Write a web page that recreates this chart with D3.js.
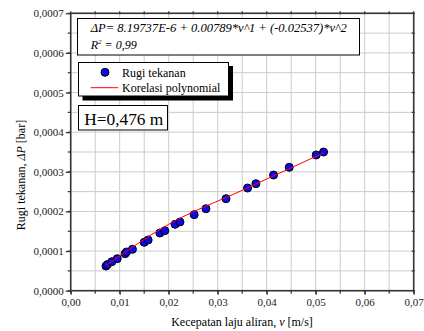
<!DOCTYPE html>
<html>
<head>
<meta charset="utf-8">
<script src="https://cdn.jsdelivr.net/npm/d3@7"></script>
<style>
  body { margin: 0; background: #fff; }
  svg { display: block; font-family: "Liberation Serif", "Times New Roman", serif; }
</style>
</head>
<body>
<svg id="chart" width="424" height="331"></svg>
<script>
// measured data: flow velocity v [m/s] vs pressure loss dP [bar]
const velocity = [0.0072, 0.0075, 0.0084, 0.0095, 0.0111, 0.0114, 0.0126, 0.0150, 0.0158,
  0.0182, 0.0192, 0.0213, 0.0223, 0.0252, 0.0276, 0.0317, 0.0361, 0.0378, 0.0414, 0.0446,
  0.0501, 0.0516];
const pressureLoss = [0.0000623, 0.0000660, 0.0000732, 0.0000808, 0.0000934, 0.0000977,
  0.0001045, 0.0001221, 0.0001279, 0.0001456, 0.0001514, 0.0001675, 0.0001734, 0.0001918,
  0.0002069, 0.0002321, 0.0002591, 0.0002700, 0.0002919, 0.0003114, 0.0003424, 0.0003500];

// polynomial fit line
const fitV = [0.0072, 0.0200, 0.0350, 0.0516];
const fitDP = [0.0000636, 0.0001675, 0.0002533, 0.0003477];

const xTicks = [0, 0.01, 0.02, 0.03, 0.04, 0.05, 0.06, 0.07];
const yTicks = [0, 0.0001, 0.0002, 0.0003, 0.0004, 0.0005, 0.0006, 0.0007];

const fmtX = d => d3.format(".2f")(d).replace(".", ",");
const fmtY = d => d3.format(".4f")(d).replace(".", ",");

const svg = d3.select("#chart");

const x = d3.scaleLinear().domain([0, 0.07]).range([70.7, 413.7]);
const y = d3.scaleLinear().domain([0, 0.0007]).range([290.7, 13.3]);

const xMinor = d3.range(0, 0.0701, 0.005);
const yMinor = d3.range(0, 0.00070001, 0.00005);

// grid
const grid = svg.append("g");
grid.selectAll(".gx").data(xMinor).enter().append("line")
  .attr("x1", d => x(d)).attr("x2", d => x(d))
  .attr("y1", y(0)).attr("y2", y(0.0007))
  .style("stroke", "#cbcbcb").style("stroke-width", 1);
grid.selectAll(".gy").data(yMinor).enter().append("line")
  .attr("x1", x(0)).attr("x2", x(0.07))
  .attr("y1", d => y(d)).attr("y2", d => y(d))
  .style("stroke", "#cbcbcb").style("stroke-width", 1);

// frame
svg.append("rect")
  .attr("x", x(0)).attr("y", y(0.0007))
  .attr("width", x(0.07) - x(0)).attr("height", y(0) - y(0.0007))
  .style("fill", "none").style("stroke", "#333").style("stroke-width", 1.6);

// axes
const bottomAxis = d3.axisBottom(x).tickValues(xTicks).tickFormat(fmtX).tickSize(4).tickPadding(4);
const leftAxis = d3.axisLeft(y).tickValues(yTicks).tickFormat(fmtY).tickSize(5).tickPadding(2);

const gx = svg.append("g").attr("transform", `translate(0,${y(0)})`).call(bottomAxis);
const gy = svg.append("g").attr("transform", `translate(${x(0)},0)`).call(leftAxis);
[gx, gy].forEach(g => {
  g.attr("font-family", null).attr("font-size", null);
  g.select(".domain").remove();
  g.selectAll(".tick line").style("stroke", "#333").style("stroke-width", 1.2);
  g.selectAll(".tick text").style("font-size", "11px").style("fill", "#222");
});

// minor ticks
svg.append("g").selectAll("line").data(xMinor).enter().append("line")
  .attr("x1", d => x(d)).attr("x2", d => x(d))
  .attr("y1", y(0)).attr("y2", y(0) + 3)
  .style("stroke", "#333").style("stroke-width", 1.2);
svg.append("g").selectAll("line").data(yMinor).enter().append("line")
  .attr("x1", x(0) - 3).attr("x2", x(0))
  .attr("y1", d => y(d)).attr("y2", d => y(d))
  .style("stroke", "#333").style("stroke-width", 1.2);
// top and right ticks
svg.append("g").selectAll("line").data(xMinor).enter().append("line")
  .attr("x1", d => x(d)).attr("x2", d => x(d))
  .attr("y1", y(0.0007) - 2).attr("y2", y(0.0007) + 1)
  .style("stroke", "#333").style("stroke-width", 1.2);
svg.append("g").selectAll("line").data(yMinor).enter().append("line")
  .attr("x1", x(0.07) - 2).attr("x2", x(0.07) + 1)
  .attr("y1", d => y(d)).attr("y2", d => y(d))
  .style("stroke", "#333").style("stroke-width", 1.2);

const line = d3.line().x(d => x(d[0])).y(d => y(d[1])).curve(d3.curveMonotoneX);

// points
svg.append("g").selectAll("circle")
  .data(velocity.map((v, i) => [v, pressureLoss[i]]))
  .enter().append("circle")
  .attr("cx", d => x(d[0])).attr("cy", d => y(d[1])).attr("r", 4)
  .style("fill", "#0a0aee").style("stroke", "#000").style("stroke-width", 1);
// fit line drawn over the points
svg.append("path")
  .datum(fitV.map((v, i) => [v, fitDP[i]]))
  .attr("d", line)
  .style("fill", "none").style("stroke", "#ff0000").style("stroke-width", 1);

// equation box
svg.append("rect").attr("x", 77.5).attr("y", 18.5).attr("width", 282).attr("height", 36.5)
  .style("fill", "#fff").style("stroke", "#000").style("stroke-width", 1);
const eq = svg.append("text").attr("x", 90.7).attr("y", 32)
  .style("font-size", "12px").style("font-style", "italic").attr("textLength", 256)
  .attr("lengthAdjust", "spacingAndGlyphs");
eq.append("tspan").text("ΔP");
eq.append("tspan").text("= 8.19737E-6 + 0.00789*v^1 + (-0.02537)*v^2");
const r2 = svg.append("text").attr("x", 90.7).attr("y", 48.5)
  .style("font-size", "12px").style("font-style", "italic");
r2.append("tspan").text("R");
r2.append("tspan").text("2").attr("dy", -5).style("font-size", "7px");
r2.append("tspan").text(" = 0,99").attr("dy", 5);

// legend with shadow
svg.append("rect").attr("x", 82.5).attr("y", 66).attr("width", 150.5).attr("height", 34.5)
  .style("fill", "#000");
svg.append("rect").attr("x", 78.5).attr("y", 62.5).attr("width", 150).attr("height", 33.5)
  .style("fill", "#fff").style("stroke", "#000").style("stroke-width", 1);
svg.append("circle").attr("cx", 105).attr("cy", 72.3).attr("r", 4)
  .style("fill", "#0a0aee").style("stroke", "#000").style("stroke-width", 1);
svg.append("text").attr("x", 122).attr("y", 76.5).style("font-size", "12px").text("Rugi tekanan");
svg.append("line").attr("x1", 90.7).attr("x2", 118.3).attr("y1", 87.7).attr("y2", 87.7)
  .style("stroke", "#ff0000").style("stroke-width", 1);
svg.append("text").attr("x", 122).attr("y", 92).style("font-size", "12px").text("Korelasi polynomial");

// H box
svg.append("rect").attr("x", 78.5).attr("y", 105.5).attr("width", 89).attr("height", 24.5)
  .style("fill", "#fff").style("stroke", "#000").style("stroke-width", 1);
svg.append("text").attr("x", 84.3).attr("y", 124.5).style("font-size", "17px")
  .attr("textLength", 79).attr("lengthAdjust", "spacingAndGlyphs").text("H=0,476 m");

// axis titles
const xt = svg.append("text").attr("x", 242).attr("y", 326).attr("text-anchor", "middle")
  .style("font-size", "12px");
xt.append("tspan").text("Kecepatan laju aliran, ");
xt.append("tspan").text("v").style("font-style", "italic");
xt.append("tspan").text(" [m/s]");

const yt = svg.append("text").attr("transform", "translate(25,175) rotate(-90)")
  .attr("text-anchor", "middle").style("font-size", "12px");
yt.append("tspan").text("Rugi tekanan, ");
yt.append("tspan").text("ΔP").style("font-style", "italic");
yt.append("tspan").text(" [bar]");
</script>
</body>
</html>
